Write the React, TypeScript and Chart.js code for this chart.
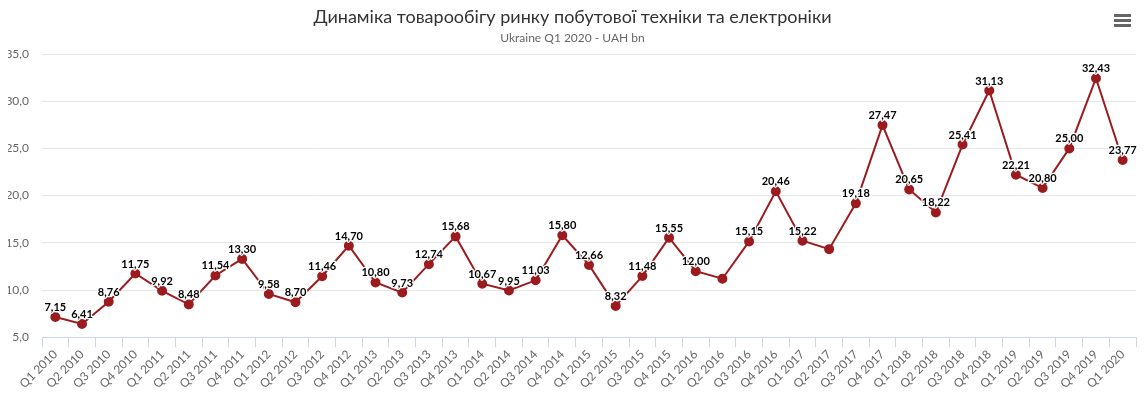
import React, { useEffect, useRef } from "react";
import { Chart, registerables } from "chart.js";

Chart.register(...registerables);

const TITLE = "Динаміка товарообігу ринку побутової техніки та електроніки";
const SUBTITLE = "Ukraine Q1 2020 - UAH bn";

const categories: string[] = [
  "Q1 2010", "Q2 2010", "Q3 2010", "Q4 2010",
  "Q1 2011", "Q2 2011", "Q3 2011", "Q4 2011",
  "Q1 2012", "Q2 2012", "Q3 2012", "Q4 2012",
  "Q1 2013", "Q2 2013", "Q3 2013", "Q4 2013",
  "Q1 2014", "Q2 2014", "Q3 2014", "Q4 2014",
  "Q1 2015", "Q2 2015", "Q3 2015", "Q4 2015",
  "Q1 2016", "Q2 2016", "Q3 2016", "Q4 2016",
  "Q1 2017", "Q2 2017", "Q3 2017", "Q4 2017",
  "Q1 2018", "Q2 2018", "Q3 2018", "Q4 2018",
  "Q1 2019", "Q2 2019", "Q3 2019", "Q4 2019",
  "Q1 2020",
];

const values: number[] = [
  7.15, 6.41, 8.76, 11.75,
  9.92, 8.48, 11.54, 13.3,
  9.58, 8.7, 11.46, 14.7,
  10.8, 9.73, 12.74, 15.68,
  10.67, 9.95, 11.03, 15.8,
  12.66, 8.32, 11.48, 15.55,
  12.0, 11.2, 15.15, 20.46,
  15.22, 14.33, 19.18, 27.47,
  20.65, 18.22, 25.41, 31.13,
  22.21, 20.8, 25.0, 32.43,
  23.77,
];

// Points whose value label is hidden in the original (overlap hidden)
const hiddenLabels: string[] = ["Q2 2016", "Q2 2017"];

const yTicks: number[] = [5, 10, 15, 20, 25, 30, 35];

const LINE_COLOR = "#9b1b1f";
const FONT = "Lato, 'Noto Sans', sans-serif";

const fmt = (v: number) => v.toFixed(2).replace(".", ",");

const headerPlugin = {
  id: "header",
  afterDraw(chart: any) {
    const ctx = chart.ctx;
    const w = chart.width;
    ctx.save();
    ctx.textAlign = "center";
    ctx.textBaseline = "middle";
    ctx.fillStyle = "#333333";
    ctx.font = `18px ${FONT}`;
    ctx.fillText(TITLE, w / 2, 17);
    ctx.fillStyle = "#666666";
    ctx.font = `12px ${FONT}`;
    ctx.fillText(SUBTITLE, w / 2, 38);
    // menu icon
    ctx.strokeStyle = "#666666";
    ctx.lineWidth = 3;
    ctx.lineCap = "butt";
    for (let i = 0; i < 3; i++) {
      const y = 15.5 + i * 5;
      ctx.beginPath();
      ctx.moveTo(1114, y);
      ctx.lineTo(1131, y);
      ctx.stroke();
    }
    ctx.restore();
  },
};

const labelPlugin = {
  id: "valueLabels",
  afterDatasetsDraw(chart: any) {
    const ctx = chart.ctx;
    const meta = chart.getDatasetMeta(0);
    ctx.save();
    ctx.font = `bold 11px ${FONT}`;
    ctx.textAlign = "center";
    ctx.textBaseline = "alphabetic";
    ctx.lineJoin = "round";
    meta.data.forEach((pt: any, i: number) => {
      if (hiddenLabels.includes(categories[i])) return;
      const txt = fmt(values[i]);
      const x = pt.x;
      const y = pt.y - 6;
      ctx.strokeStyle = "#ffffff";
      ctx.lineWidth = 2.5;
      ctx.strokeText(txt, x, y);
      ctx.fillStyle = "#000000";
      ctx.fillText(txt, x, y);
    });
    ctx.restore();
  },
};

export default function App() {
  const ref = useRef<HTMLCanvasElement | null>(null);

  useEffect(() => {
    document.body.style.margin = "0";
    if (!ref.current) return;
    const chart = new Chart(ref.current, {
      type: "line",
      data: {
        labels: categories,
        datasets: [
          {
            data: values,
            borderColor: LINE_COLOR,
            backgroundColor: LINE_COLOR,
            borderWidth: 2,
            pointRadius: 4,
            pointHoverRadius: 4,
            pointBackgroundColor: LINE_COLOR,
            pointBorderColor: LINE_COLOR,
            tension: 0,
          },
        ],
      },
      options: {
        responsive: false,
        animation: false,
        layout: { padding: { top: 54, left: 8, right: 9, bottom: 6 } },
        plugins: {
          legend: { display: false },
          tooltip: { enabled: false },
          title: { display: false },
        },
        scales: {
          x: {
            offset: true,
            grid: {
              offset: true,
              drawOnChartArea: false,
              drawTicks: true,
              tickLength: 10,
              color: "#ccd6eb",
            },
            border: { color: "#ccd6eb", width: 1 },
            ticks: {
              autoSkip: false,
              maxRotation: 45,
              minRotation: 45,
              color: "#666666",
              font: { family: FONT, size: 12 },
              padding: 0,
            },
            afterFit: (axis: any) => {
              axis.paddingLeft = 0;
              axis.paddingRight = 0;
            },
          },
          y: {
            min: yTicks[0],
            max: yTicks[yTicks.length - 1],
            afterBuildTicks: (axis: any) => {
              axis.ticks = yTicks.map((v) => ({ value: v }));
            },
            afterFit: (axis: any) => {
              axis.width = 34;
              axis.paddingTop = 0;
              axis.paddingBottom = 0;
            },
            grid: { color: "#e6e6e6", drawTicks: false },
            border: { display: false },
            ticks: {
              color: "#666666",
              font: { family: FONT, size: 12 },
              padding: 13,
              callback: (v: any) => Number(v).toFixed(1).replace(".", ","),
            },
          },
        },
      },
      plugins: [headerPlugin, labelPlugin],
    });
    return () => chart.destroy();
  }, []);

  return (
    <div style={{ width: 1145, height: 397 }}>
      <canvas ref={ref} width={1145} height={397} style={{ display: "block" }} />
    </div>
  );
}
